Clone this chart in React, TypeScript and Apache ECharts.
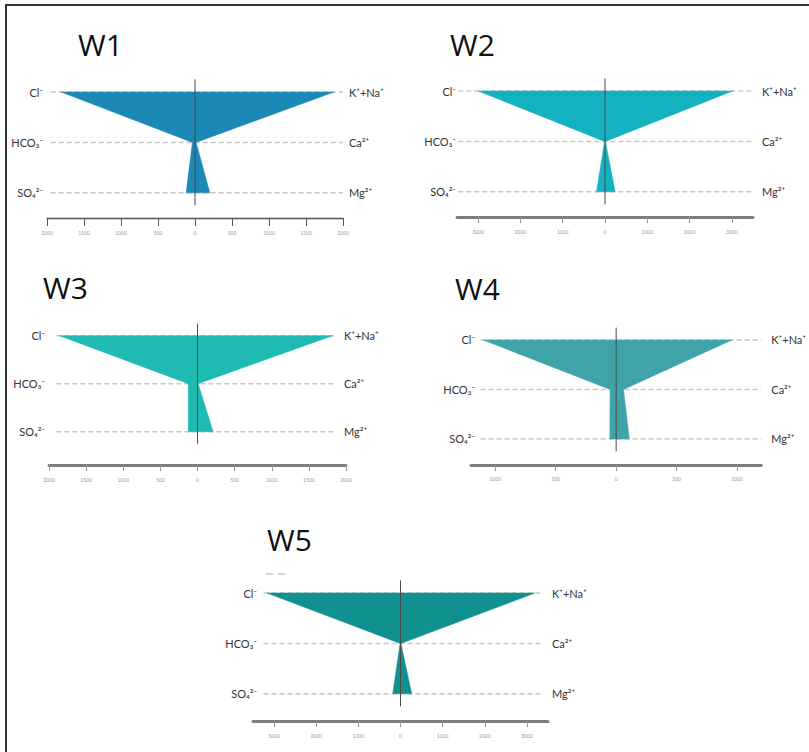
import React, { useEffect, useRef } from "react";
import * as echarts from "echarts";

// ---- data ----
const wells = ["W1", "W2", "W3", "W4", "W5"];
const anions = ["Cl⁻", "HCO₃⁻", "SO₄²⁻"];
const cations = ["K⁺+Na⁺", "Ca²⁺", "Mg²⁺"];
const cl = [1810, 3000, 1860, 1100, 3170];
const hco3 = [35, 10, 125, 50, 10];
const so4 = [120, 200, 125, 52, 185];
const kna = [1880, 3020, 1820, 958, 3190];
const ca = [15, 10, 10, 61, 10];
const mg = [200, 240, 210, 109, 266];
const axisMax = [2000, 3500, 2000, 1200, 3500];
const ticksA = [-2000, -1500, -1000, -500, 0, 500, 1000, 1500, 2000];
const ticksB = [-3000, -2000, -1000, 0, 1000, 2000, 3000];
const ticksC = [-1000, -500, 0, 500, 1000];
const tickValues = [ticksA, ticksB, ticksA, ticksC, ticksB];
const rows = [0, 1, 2];

// ---- styling / layout ----
const colors = ["#1b88b6", "#14b1c1", "#1fbab2", "#3ea4a9", "#10918f"];
const layout = [
  { left: 47, width: 296, top: 79.4, height: 126, offset: 12.6, lm: 4, rm: 6, dash: [-1950, 2000], title: [78, 44], thin: true },
  { left: 457, width: 296, top: 78.4, height: 126, offset: 12.6, lm: 1, rm: 9, dash: [-3470, 3500], title: [450, 44], thin: false },
  { left: 49, width: 297, top: 323.7, height: 120, offset: 21.3, lm: 4, rm: -2, dash: [-1900, 1850], title: [43, 287], thin: false },
  { left: 471, width: 297, top: 327.6, height: 123.75, offset: 13.6, lm: -4, rm: 10, dash: [-1120, 1200], title: [455, 288], thin: false },
  { left: 253, width: 295, top: 580.4, height: 126, offset: 14.6, lm: -4, rm: 4, dash: [-3250, 3400], title: [267, 539], thin: false },
];
const FONT = 'Lato, "DejaVu Sans", sans-serif';
const TITLE_FONT = '"Open Sans", "DejaVu Sans", sans-serif';

export default function App() {
  const ref = useRef<HTMLDivElement>(null);
  useEffect(() => {
    if (!ref.current) return;
    const chart = echarts.init(ref.current, null, { renderer: "svg" });

    const grid: any[] = [];
    const xAxis: any[] = [];
    const yAxis: any[] = [];
    const series: any[] = [];
    const graphic: any[] = [];

    wells.forEach((w, i) => {
      const L = layout[i];
      grid.push({ left: L.left, width: L.width, top: L.top, height: L.height, containLabel: false });
      xAxis.push({
        gridIndex: i,
        type: "value",
        min: -axisMax[i],
        max: axisMax[i],
        position: "bottom",
        offset: L.offset,
        axisLine: {
          show: true,
          onZero: false,
          lineStyle: L.thin ? { color: "#555", width: 1.3 } : { color: "#7d7d7d", width: 3 },
        },
        axisTick: {
          show: true,
          customValues: tickValues[i],
          length: L.thin ? 8 : 6,
          lineStyle: { color: L.thin ? "#555" : "#999", width: 1 },
        },
        axisLabel: {
          customValues: tickValues[i],
          formatter: (v: number) => String(Math.abs(v)),
          fontSize: 5,
          color: "#999",
          margin: 12,
          fontFamily: FONT,
        },
        splitLine: { show: false },
      });
      const yBase = {
        gridIndex: i,
        type: "value",
        min: -0.25,
        max: 2.25,
        inverse: true,
        axisLine: { show: false, onZero: false },
        axisTick: { show: false },
        splitLine: { show: false },
      };
      yAxis.push({
        ...yBase,
        position: "left",
        axisLabel: {
          customValues: rows,
          formatter: (v: number) => anions[v],
          margin: L.lm,
          fontSize: 11,
          color: "#333",
          fontFamily: FONT,
        },
      });
      yAxis.push({
        ...yBase,
        position: "right",
        axisLabel: {
          customValues: rows,
          formatter: (v: number) => cations[v],
          margin: L.rm,
          fontSize: 11,
          color: "#333",
          fontFamily: FONT,
        },
      });
      series.push({
        type: "custom",
        coordinateSystem: "cartesian2d",
        xAxisIndex: i,
        yAxisIndex: 2 * i,
        silent: true,
        clip: false,
        data: [[cl[i], hco3[i], so4[i], kna[i], ca[i], mg[i]]],
        renderItem: (_params: any, api: any) => {
          const v = (k: number) => api.value(k);
          const pts = [
            [-v(0), 0],
            [v(3), 0],
            [v(4), 1],
            [v(5), 2],
            [-v(2), 2],
            [-v(1), 1],
          ].map((p) => api.coord(p));
          const children: any[] = [];
          rows.forEach((r) => {
            const a = api.coord([L.dash[0], r]);
            const b = api.coord([L.dash[1], r]);
            children.push({
              type: "line",
              shape: { x1: a[0], y1: a[1], x2: b[0], y2: b[1] },
              style: { stroke: "#c6c6c6", lineWidth: 1.5, lineDash: [5, 3] },
            });
          });
          children.push({
            type: "polygon",
            shape: { points: pts },
            style: { fill: colors[i], stroke: colors[i], lineWidth: 0.5 },
          });
          const t = api.coord([0, -0.25]);
          const bt = api.coord([0, 2.25]);
          children.push({
            type: "line",
            shape: { x1: t[0], y1: t[1], x2: bt[0], y2: bt[1] },
            style: { stroke: "#4a4a4a", lineWidth: 1 },
          });
          return { type: "group", children };
        },
      });
      graphic.push({
        type: "text",
        x: L.title[0],
        y: L.title[1],
        style: { text: w, fontSize: 30, fontFamily: TITLE_FONT, fill: "#111", verticalAlign: "middle", align: "left" },
      });
    });

    graphic.push({
      type: "rect",
      shape: { x: 6, y: 5, width: 900, height: 900 },
      style: { fill: "none", stroke: "#333", lineWidth: 2 },
    });
    graphic.push({
      type: "line",
      shape: { x1: 266, y1: 574, x2: 290, y2: 574 },
      style: { stroke: "#aaa", lineWidth: 1.2, lineDash: [7, 5] },
    });

    chart.setOption({
      animation: false,
      backgroundColor: "#fff",
      grid,
      xAxis,
      yAxis,
      series,
      graphic,
    });
    return () => chart.dispose();
  }, []);
  return <div ref={ref} style={{ position: "absolute", left: 0, top: 0, width: 809, height: 752 }} />;
}
